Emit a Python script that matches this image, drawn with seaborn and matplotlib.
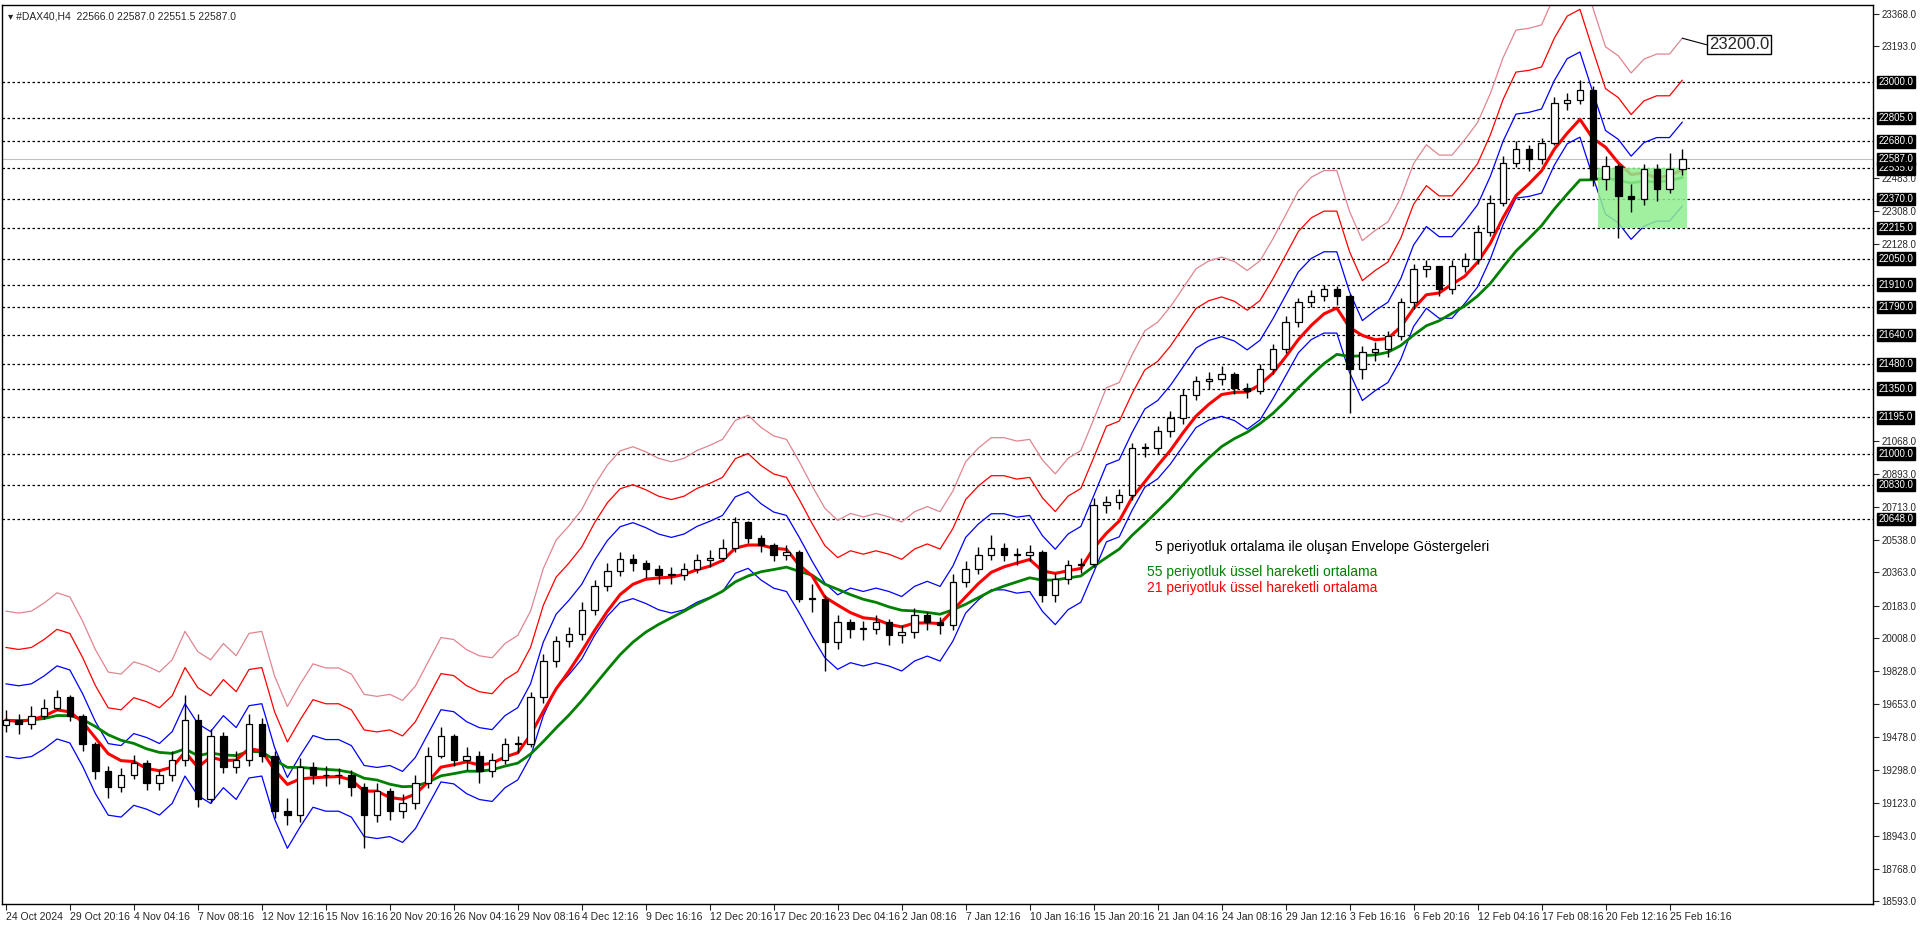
import numpy as np
import pandas as pd
import matplotlib
matplotlib.use('Agg')
import matplotlib.pyplot as plt
import seaborn as sns
from matplotlib.patches import Rectangle

# aggregated H4 candles (each ~4 bars)
closes = [19566, 19545, 19587, 19630, 19693, 19587, 19439, 19290, 19205, 19269,
          19333, 19227, 19269, 19354, 19566, 19142, 19481, 19312, 19354, 19545,
          19375, 19078, 19057, 19312, 19269, 19269, 19269, 19205, 19057, 19184,
          19078, 19121, 19227, 19375, 19481, 19354, 19375, 19290, 19354, 19439,
          19439, 19693, 19884, 19990, 20032, 20160, 20287, 20371, 20435, 20414,
          20382, 20346, 20346, 20382, 20427, 20436, 20490, 20634, 20544, 20508,
          20454, 20472, 20220, 20220, 19986, 20094, 20058, 20058, 20094, 20022,
          20040, 20130, 20094, 20076, 20310, 20382, 20454, 20490, 20454, 20454,
          20472, 20238, 20328, 20400, 20409, 20724, 20742, 20778, 21030, 21030,
          21120, 21192, 21318, 21390, 21400, 21430, 21354, 21336, 21456, 21563,
          21707, 21814, 21850, 21885, 21850, 21456, 21546, 21563, 21635, 21814,
          21993, 22011, 21885, 22011, 22046, 22190, 22350, 22565, 22637, 22583,
          22673, 22887, 22905, 22959, 22480, 22547, 22386, 22368, 22530, 22422,
          22530, 22587]
highs = [19620, 19600, 19640, 19680, 19730, 19700, 19600, 19450, 19320, 19310,
         19380, 19350, 19300, 19400, 19700, 19600, 19520, 19500, 19400, 19600,
         19580, 19400, 19150, 19360, 19340, 19320, 19310, 19300, 19230, 19230,
         19200, 19170, 19270, 19420, 19530, 19490, 19420, 19400, 19390, 19470,
         19480, 19720, 19920, 20020, 20070, 20200, 20320, 20410, 20470, 20460,
         20430, 20400, 20390, 20410, 20460, 20480, 20540, 20660, 20640, 20560,
         20520, 20510, 20480, 20300, 20240, 20130, 20110, 20100, 20130, 20110,
         20080, 20170, 20150, 20120, 20350, 20420, 20500, 20560, 20520, 20490,
         20510, 20480, 20360, 20430, 20440, 20760, 20770, 20810, 21060, 21060,
         21150, 21230, 21350, 21420, 21440, 21470, 21440, 21380, 21480, 21590,
         21740, 21840, 21880, 21910, 21900, 21860, 21580, 21600, 21660, 21840,
         22020, 22040, 22010, 22040, 22080, 22230, 22390, 22600, 22680, 22660,
         22700, 22920, 22940, 23010, 22980, 22600, 22560, 22450, 22560, 22560,
         22620, 22640]
lows = [19500, 19490, 19520, 19570, 19620, 19560, 19400, 19250, 19150, 19180,
        19250, 19190, 19190, 19240, 19320, 19100, 19120, 19280, 19280, 19320,
        19340, 19040, 19000, 19020, 19220, 19210, 19220, 19160, 18880, 19020,
        19030, 19040, 19090, 19200, 19360, 19320, 19300, 19230, 19260, 19330,
        19390, 19420, 19660, 19850, 19960, 20000, 20130, 20260, 20340, 20370,
        20330, 20300, 20300, 20320, 20360, 20390, 20420, 20470, 20520, 20470,
        20420, 20430, 20200, 20150, 19830, 19950, 20010, 20000, 20030, 19970,
        19980, 20010, 20050, 20030, 20050, 20280, 20350, 20430, 20420, 20400,
        20420, 20200, 20200, 20300, 20360, 20390, 20680, 20700, 20750, 20980,
        21000, 21090, 21160, 21290, 21350, 21370, 21320, 21300, 21320, 21430,
        21540, 21680, 21790, 21820, 21800, 21220, 21400, 21500, 21520, 21610,
        21780, 21950, 21850, 21860, 21980, 22020, 22170, 22330, 22540, 22520,
        22560, 22660, 22850, 22880, 22440, 22420, 22160, 22300, 22340, 22360,
        22400, 22500]

date_labels = ['24 Oct 2024', '29 Oct 20:16', '4 Nov 04:16', '7 Nov 08:16', '12 Nov 12:16',
               '15 Nov 16:16', '20 Nov 20:16', '26 Nov 04:16', '29 Nov 08:16', '4 Dec 12:16',
               '9 Dec 16:16', '12 Dec 20:16', '17 Dec 20:16', '23 Dec 04:16', '2 Jan 08:16',
               '7 Jan 12:16', '10 Jan 16:16', '15 Jan 20:16', '21 Jan 04:16', '24 Jan 08:16',
               '29 Jan 12:16', '3 Feb 16:16', '6 Feb 20:16', '12 Feb 04:16', '17 Feb 08:16',
               '20 Feb 12:16', '25 Feb 16:16']

levels = [23000, 22805, 22680, 22535, 22370, 22215, 22050, 21910, 21790, 21640,
          21480, 21350, 21195, 21000, 20830, 20648]
plain_ticks = [23368, 23193, 22483, 22308, 22128, 21068, 20893, 20713, 20538, 20363,
               20183, 20008, 19828, 19653, 19478, 19298, 19123, 18943, 18768, 18593]
current_price = 22587.0

df = pd.DataFrame({'close': closes, 'high': highs, 'low': lows})
df['open'] = df['close'].shift(1).fillna(19540)
df['x'] = np.arange(len(df))
# indicators (periods scaled to the aggregated candles)
df['ema21'] = df['close'].ewm(span=21 / 4, adjust=False).mean()
df['ema55'] = df['close'].ewm(span=55 / 4, adjust=False).mean()
ma5 = df['close'].rolling(2, min_periods=1).mean()

sns.set_style('white')
plt.rcParams['font.family'] = ['Liberation Sans', 'DejaVu Sans']
fig = plt.figure(figsize=(19.2, 9.27), dpi=100)
ax = fig.add_axes([2 / 1920, 1 - 904 / 927, 1871 / 1920, 899 / 927])

# horizontal levels
for lv in levels:
    ax.axhline(lv, color='black', linestyle=(0, (2, 2)), linewidth=0.9, zorder=1)
ax.axhline(current_price, color='#c0c0c0', linewidth=0.8, zorder=1)

# envelopes
sns.lineplot(x=df['x'], y=ma5 * 1.03, color='#e08590', linewidth=0.9, ax=ax)
sns.lineplot(x=df['x'], y=ma5 * 1.02, color='#ff0000', linewidth=0.9, ax=ax)
sns.lineplot(x=df['x'], y=ma5 * 1.01, color='#0000ff', linewidth=0.9, ax=ax)
sns.lineplot(x=df['x'], y=ma5 * 0.99, color='#0000ff', linewidth=0.9, ax=ax)
sns.lineplot(x=df['x'], y=df['ema55'], color='#008000', linewidth=2, ax=ax)
sns.lineplot(x=df['x'], y=df['ema21'], color='#ff0000', linewidth=2.2, ax=ax)

# candles
w = 0.5
for _, r in df.iterrows():
    ax.vlines(r['x'], r['low'], r['high'], color='black', linewidth=1, zorder=4)
    up = r['close'] >= r['open']
    lo = min(r['open'], r['close'])
    h = max(abs(r['close'] - r['open']), 4)
    ax.add_patch(Rectangle((r['x'] - w / 2, lo), w, h, facecolor='white' if up else 'black',
                           edgecolor='black', linewidth=0.9, zorder=5))

# consolidation box
ax.add_patch(Rectangle((124.4, 22216), 7.0, 322, facecolor='#90ee90', alpha=0.85,
                       edgecolor='none', zorder=2))

# annotations
ax.text(89.8, 20500, '5 periyotluk ortalama ile oluşan Envelope Göstergeleri', fontsize=10,
        color='black', va='center', zorder=6)
ax.text(89.2, 20362, '55 periyotluk üssel hareketli ortalama', fontsize=10,
        color='#008000', va='center', zorder=6)
ax.text(89.2, 20276, '21 periyotluk üssel hareketli ortalama', fontsize=10,
        color='#ff0000', va='center', zorder=6)
last_pink = (ma5 * 1.03).iloc[-1]
ax.plot([df['x'].iloc[-1], 132.9], [last_pink, 23200], color='black', linewidth=0.8)
ax.text(133.1, 23200, '23200.0', fontsize=12, va='center', ha='left',
        bbox=dict(facecolor='white', edgecolor='black', boxstyle='square,pad=0.12', linewidth=1))

ax.text(0.003, 0.993, '▾ #DAX40,H4  22566.0 22587.0 22551.5 22587.0', transform=ax.transAxes,
        fontsize=7.5, va='top', ha='left')

ax.set_xlim(-0.3, 145.9)
ax.set_ylim(18577, 23414)
ax.set_xlabel('')
ax.set_ylabel('')

# x axis ticks
xt = [5 * i for i in range(len(date_labels))]
ax.set_xticks(xt)
ax.set_xticklabels(date_labels, fontsize=7.5, ha='left')
ax.tick_params(axis='x', length=4, pad=2, direction='out', bottom=True)

# right price axis
ax.yaxis.tick_right()
ax.set_yticks(plain_ticks)
ax.set_yticklabels([f'{v:.1f}' for v in plain_ticks], fontsize=7)
ax.tick_params(axis='y', length=4, pad=2, direction='out', right=True, left=False)
for lv in levels + [current_price]:
    ax.annotate(f'{lv:.1f}', xy=(1.0, lv), xycoords=('axes fraction', 'data'),
                xytext=(4, 0), textcoords='offset points', fontsize=7, color='white',
                va='center', ha='left', annotation_clip=False,
                bbox=dict(facecolor='black', edgecolor='black', boxstyle='square,pad=0.12'))

for s in ax.spines.values():
    s.set_color('black')
    s.set_linewidth(1)

fig.savefig('out.png', dpi=100)
